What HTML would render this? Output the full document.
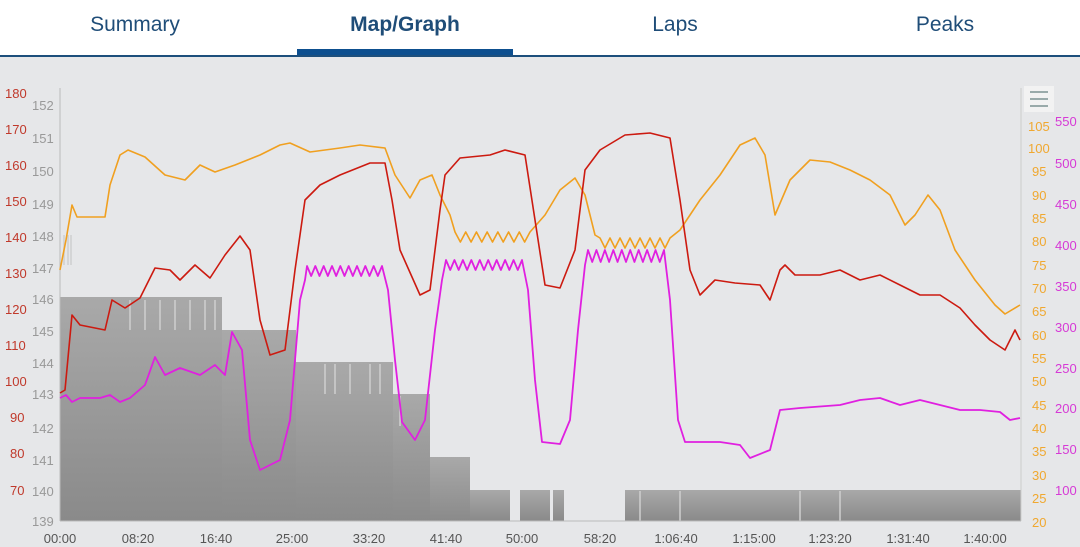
<!DOCTYPE html>
<html><head><meta charset="utf-8"><style>
html,body{margin:0;padding:0;width:1080px;height:547px;overflow:hidden;background:#e6e7e9;font-family:"Liberation Sans",sans-serif}
#hdr{position:absolute;left:0;top:0;width:1080px;height:55px;background:#fff;border-bottom:2px solid #1d4f7c}
.tab{position:absolute;top:13px;font-size:21px;color:#1f4d78;width:216px;text-align:center}
#ul{position:absolute;left:297px;top:49px;width:216px;height:6px;background:#0d4f8f}
svg{position:absolute;left:0;top:0}
</style></head><body>
<div id="hdr">
<div class="tab" style="left:27px">Summary</div>
<div class="tab" style="left:297px;font-weight:bold">Map/Graph</div>
<div class="tab" style="left:567px">Laps</div>
<div class="tab" style="left:837px">Peaks</div>
<div id="ul"></div>
</div>
<svg id="s" width="1080" height="547" font-family="Liberation Sans, sans-serif">
<defs><linearGradient id="g" x1="0" y1="0" x2="0" y2="1"><stop offset="0" stop-color="#a9a9a9"/><stop offset="1" stop-color="#8a8a8a"/></linearGradient></defs>
<g id="gray"></g>
<line x1="60" y1="88" x2="60" y2="521" stroke="#bbb"/>
<line x1="1021" y1="88" x2="1021" y2="521" stroke="#ccc"/>
<line x1="60" y1="521" x2="1021" y2="521" stroke="#bbb"/>
<rect x="1024" y="86" width="30" height="26" fill="#f2f2f2"/>
<g stroke="#9aa" stroke-width="2"><line x1="1030" y1="92" x2="1048" y2="92"/><line x1="1030" y1="99" x2="1048" y2="99"/><line x1="1030" y1="106" x2="1048" y2="106"/></g>
<g font-size="13" fill="#c0392b">
<text x="5" y="98">180</text><text x="5" y="134">170</text><text x="5" y="170">160</text><text x="5" y="206">150</text><text x="5" y="242">140</text><text x="5" y="278">130</text><text x="5" y="314">120</text><text x="5" y="350">110</text><text x="5" y="386">100</text><text x="10" y="422">90</text><text x="10" y="458">80</text><text x="10" y="495">70</text></g>
<g font-size="13" fill="#999">
<text x="32" y="110">152</text><text x="32" y="143">151</text><text x="32" y="176">150</text><text x="32" y="209">149</text><text x="32" y="241">148</text><text x="32" y="273">147</text><text x="32" y="304">146</text><text x="32" y="336">145</text><text x="32" y="368">144</text><text x="32" y="399">143</text><text x="32" y="433">142</text><text x="32" y="465">141</text><text x="32" y="496">140</text><text x="32" y="526">139</text></g>
<g font-size="13" fill="#f0a830" id="or"></g>
<g font-size="13" fill="#d63ad6">
<text x="1055" y="126">550</text><text x="1055" y="168">500</text><text x="1055" y="209">450</text><text x="1055" y="250">400</text><text x="1055" y="291">350</text><text x="1055" y="332">300</text><text x="1055" y="373">250</text><text x="1055" y="413">200</text><text x="1055" y="454">150</text><text x="1055" y="495">100</text></g>
<g font-size="13" fill="#555" text-anchor="middle">
<text x="60" y="543">00:00</text><text x="138" y="543">08:20</text><text x="216" y="543">16:40</text><text x="292" y="543">25:00</text><text x="369" y="543">33:20</text><text x="446" y="543">41:40</text><text x="522" y="543">50:00</text><text x="600" y="543">58:20</text><text x="676" y="543">1:06:40</text><text x="754" y="543">1:15:00</text><text x="830" y="543">1:23:20</text><text x="908" y="543">1:31:40</text><text x="985" y="543">1:40:00</text></g>
<g font-size="13" fill="#f0a830">
<text x="1028" y="131">105</text><text x="1028" y="153">100</text><text x="1032" y="176">95</text><text x="1032" y="200">90</text><text x="1032" y="223">85</text><text x="1032" y="246">80</text><text x="1032" y="270">75</text><text x="1032" y="293">70</text><text x="1032" y="316">65</text><text x="1032" y="340">60</text><text x="1032" y="363">55</text><text x="1032" y="386">50</text><text x="1032" y="410">45</text><text x="1032" y="433">40</text><text x="1032" y="456">35</text><text x="1032" y="480">30</text><text x="1032" y="503">25</text><text x="1032" y="527">20</text></g>
<polyline id="o" fill="none" stroke="#f0a020" stroke-width="1.6" stroke-linejoin="round"/>
<polyline id="r" fill="none" stroke="#cc1a10" stroke-width="1.6" stroke-linejoin="round"/>
<polyline id="m" fill="none" stroke="#e020e0" stroke-width="1.8" stroke-linejoin="round"/>
</svg>
<script>
function P(a){return a.map(p=>p.join(',')).join(' ')}
function osc(x1,x2,y,amp,n){var r=[];for(var i=0;i<=n*2;i++){r.push([x1+(x2-x1)*i/(n*2),y+(i%2?amp:0)]);}return r;}
var o=[[60,270],[66,240],[72,205],[77,217],[105,217],[110,185],[120,155],[128,150],[145,157],[165,175],[185,180],[200,165],[215,172],[235,165],[260,155],[280,145],[290,143],[310,152],[340,148],[360,145],[385,148],[395,175],[410,198],[420,180],[432,175],[440,195],[450,215]].concat(osc(455,530,232,10,7),[[545,215],[560,190],[575,178],[585,195],[595,235]],osc(600,670,238,10,7),[[680,230],[700,200],[720,175],[740,145],[755,138],[765,155],[775,215],[790,180],[810,160],[830,162],[850,170],[870,180],[890,195],[905,225],[915,215],[928,195],[940,210],[955,250],[975,280],[995,305],[1005,314],[1020,305]]);
var r=[[60,393],[65,390],[72,315],[80,325],[105,330],[112,300],[125,308],[140,298],[155,268],[170,270],[180,280],[195,265],[210,278],[225,255],[240,236],[250,250],[260,320],[270,355],[285,350],[295,270],[305,200],[320,185],[340,175],[370,163],[385,163],[392,200],[400,250],[420,295],[430,290],[440,210],[445,175],[460,158],[490,155],[505,150],[525,155],[535,220],[545,285],[560,288],[575,250],[585,170],[600,150],[625,135],[650,133],[670,138],[680,200],[690,270],[700,295],[715,280],[735,283],[760,285],[770,300],[780,270],[785,265],[795,275],[820,275],[840,270],[860,280],[880,275],[900,285],[920,295],[940,295],[960,308],[975,325],[990,340],[1005,350],[1015,330],[1020,340]];
var m=[[60,398],[66,395],[72,402],[80,398],[100,398],[110,395],[120,402],[130,398],[145,385],[155,357],[165,375],[180,368],[200,375],[215,365],[225,375],[232,332],[242,350],[250,440],[260,470],[280,460],[290,420],[300,300],[305,280]].concat(osc(307,382,266,10,9),[[388,290],[395,360],[402,422],[415,440],[425,420],[435,330],[442,280]],osc(446,522,260,10,9),[[528,290],[535,380],[542,442],[560,444],[570,420],[578,330],[585,265]],osc(588,664,250,12,9),[[670,300],[678,420],[685,442],[720,442],[740,445],[750,458],[770,450],[780,410],[800,408],[840,405],[860,400],[880,398],[900,405],[920,400],[940,405],[960,410],[980,410],[1000,412],[1010,420],[1020,418]]);
document.getElementById('o').setAttribute('points',P(o));
document.getElementById('r').setAttribute('points',P(r));
document.getElementById('m').setAttribute('points',P(m));
var ns='http://www.w3.org/2000/svg',g=document.getElementById('gray');
var steps=[[60,122,297],[122,222,297],[222,296,330],[296,393,362],[393,430,394],[430,470,457],[470,510,490],[520,550,490],[553,564,490],[625,1021,490]];
steps.forEach(s=>{var e=document.createElementNS(ns,'rect');e.setAttribute('x',s[0]);e.setAttribute('y',s[2]);e.setAttribute('width',s[1]-s[0]);e.setAttribute('height',521-s[2]);e.setAttribute('fill','url(#g)');g.appendChild(e);});
var lines=[[64,265],[68,265],[71,265],[130,330],[145,330],[160,330],[175,330],[190,330],[205,330],[215,330],[325,394],[335,394],[350,394],[370,394],[380,394],[400,426],[640,521],[680,521],[800,521],[840,521]];
lines.forEach(l=>{var e=document.createElementNS(ns,'line');e.setAttribute('x1',l[0]);e.setAttribute('x2',l[0]);e.setAttribute('y1',l[1]-30);e.setAttribute('y2',l[1]);e.setAttribute('stroke','#cfcfcf');e.setAttribute('stroke-width','1.5');g.appendChild(e);});
</script>
</body></html>
